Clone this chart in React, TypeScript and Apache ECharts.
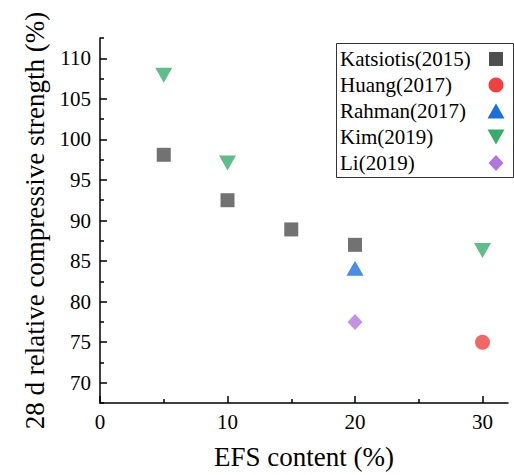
import React, { useEffect, useRef } from "react";
import * as echarts from "echarts";

const seriesNames = ["Katsiotis(2015)", "Huang(2017)", "Rahman(2017)", "Kim(2019)", "Li(2019)"];
const seriesColors = ["#4f4f4f", "#f14040", "#1a6fdf", "#37ad6b", "#b177de"];
const katsiotis = [[5, 98.1], [10, 92.5], [15, 88.9], [20, 87.0]];
const huang = [[30, 75.0]];
const rahman = [[20, 84.1]];
const kim = [[5, 107.9], [10, 97.1], [30, 86.3]];
const li = [[20, 77.5]];
const xTicks = [0, 10, 20, 30];
const xMinor = [5, 15, 25];
const yTicks = [70, 75, 80, 85, 90, 95, 100, 105, 110];
const yMinor = [67.5, 72.5, 77.5, 82.5, 87.5, 92.5, 97.5, 102.5, 107.5, 112.5];

const FONT = "Liberation Serif";

function legendGraphics() {
  const left = 336, top = 43, w = 177, rowH = 26, pad = 3;
  const iconX = 496;
  const els: any[] = [
    { type: "rect", shape: { x: left + 0.5, y: top + 0.5, width: w, height: pad + rowH * 5 + 1 }, style: { fill: "#fff", stroke: "#333", lineWidth: 1 }, z: 10 },
  ];
  seriesNames.forEach((name, i) => {
    const cy = top + pad + rowH * i + rowH / 2;
    els.push({
      type: "text", x: left + 4, y: cy, z: 11,
      style: { text: name, fontFamily: FONT, fontSize: 21, fill: "#000", verticalAlign: "middle", align: "left" },
    });
    const c = seriesColors[i];
    let icon: any;
    if (i === 0) icon = { type: "rect", shape: { x: iconX - 7, y: cy - 7, width: 14, height: 14 } };
    else if (i === 1) icon = { type: "circle", shape: { cx: iconX, cy, r: 7.5 } };
    else if (i === 2) icon = { type: "polygon", shape: { points: [[iconX - 8.5, cy + 7.5], [iconX + 8.5, cy + 7.5], [iconX, cy - 7.5]] } };
    else if (i === 3) icon = { type: "polygon", shape: { points: [[iconX - 8.5, cy - 7.5], [iconX + 8.5, cy - 7.5], [iconX, cy + 7.5]] } };
    else icon = { type: "polygon", shape: { points: [[iconX, cy - 8], [iconX + 7.5, cy], [iconX, cy + 8], [iconX - 7.5, cy]] } };
    els.push({ ...icon, z: 11, style: { fill: c } });
  });
  return els;
}

export default function App() {
  const ref = useRef<HTMLDivElement>(null);
  useEffect(() => {
    if (!ref.current) return;
    const chart = echarts.init(ref.current, undefined, { renderer: "svg" });
    const axisLine = { show: true, lineStyle: { color: "#000", width: 1.5 } };
    const common = {
      type: "scatter",
      emphasis: { disabled: true },
    };
    chart.setOption({
      animation: false,
      backgroundColor: "#fff",
      textStyle: { fontFamily: FONT },
      grid: { left: 100, top: 38, right: 6, bottom: 69, containLabel: false },
      graphic: legendGraphics(),
      xAxis: [
        {
          type: "value",
          min: 0,
          max: 32,
          interval: 10,
          position: "bottom",
          name: "EFS content (%)",
          nameLocation: "middle",
          nameGap: 40,
          nameTextStyle: { fontFamily: FONT, fontSize: 27, color: "#000" },
          axisLine,
          axisTick: { show: true, inside: true, length: 7, lineStyle: { color: "#000", width: 1.5 }, customValues: xTicks },
          axisLabel: { fontFamily: FONT, fontSize: 21, color: "#000", margin: 8, customValues: xTicks },
          splitLine: { show: false },
        },
        {
          type: "value",
          min: 0,
          max: 32,
          position: "bottom",
          axisLine: { show: false },
          axisTick: { show: true, inside: true, length: 4, lineStyle: { color: "#000", width: 1.5 }, customValues: xMinor },
          axisLabel: { show: false },
          splitLine: { show: false },
        },
      ],
      yAxis: [
        {
          type: "value",
          min: 67.5,
          max: 112.5,
          name: "28 d relative compressive strength (%)",
          nameLocation: "middle",
          nameGap: 51,
          nameTextStyle: { fontFamily: FONT, fontSize: 27, color: "#000" },
          axisLine,
          axisTick: { show: true, inside: true, length: 7, lineStyle: { color: "#000", width: 1.5 }, customValues: yTicks },
          axisLabel: { fontFamily: FONT, fontSize: 21, color: "#000", margin: 9, customValues: yTicks },
          splitLine: { show: false },
        },
        {
          type: "value",
          min: 67.5,
          max: 112.5,
          position: "left",
          axisLine: { show: false },
          axisTick: { show: true, inside: true, length: 4, lineStyle: { color: "#000", width: 1.5 }, customValues: yMinor },
          axisLabel: { show: false },
          splitLine: { show: false },
        },
      ],
      series: [
        { ...common, name: seriesNames[0], data: katsiotis, symbol: "rect", symbolSize: 14, itemStyle: { color: seriesColors[0] } },
        { ...common, name: seriesNames[1], data: huang, symbol: "circle", symbolSize: 15, itemStyle: { color: seriesColors[1] } },
        { ...common, name: seriesNames[2], data: rahman, symbol: "triangle", symbolSize: [17, 15], itemStyle: { color: seriesColors[2] } },
        { ...common, name: seriesNames[3], data: kim, symbol: "path://M0,0L10,0L5,9Z", symbolSize: [17, 15], itemStyle: { color: seriesColors[3] } },
        { ...common, name: seriesNames[4], data: li, symbol: "diamond", symbolSize: [15, 16], itemStyle: { color: seriesColors[4] } },
      ],
    });
    return () => chart.dispose();
  }, []);
  return <div ref={ref} style={{ width: 514, height: 475, position: "absolute", left: 0, top: 0 }} />;
}
